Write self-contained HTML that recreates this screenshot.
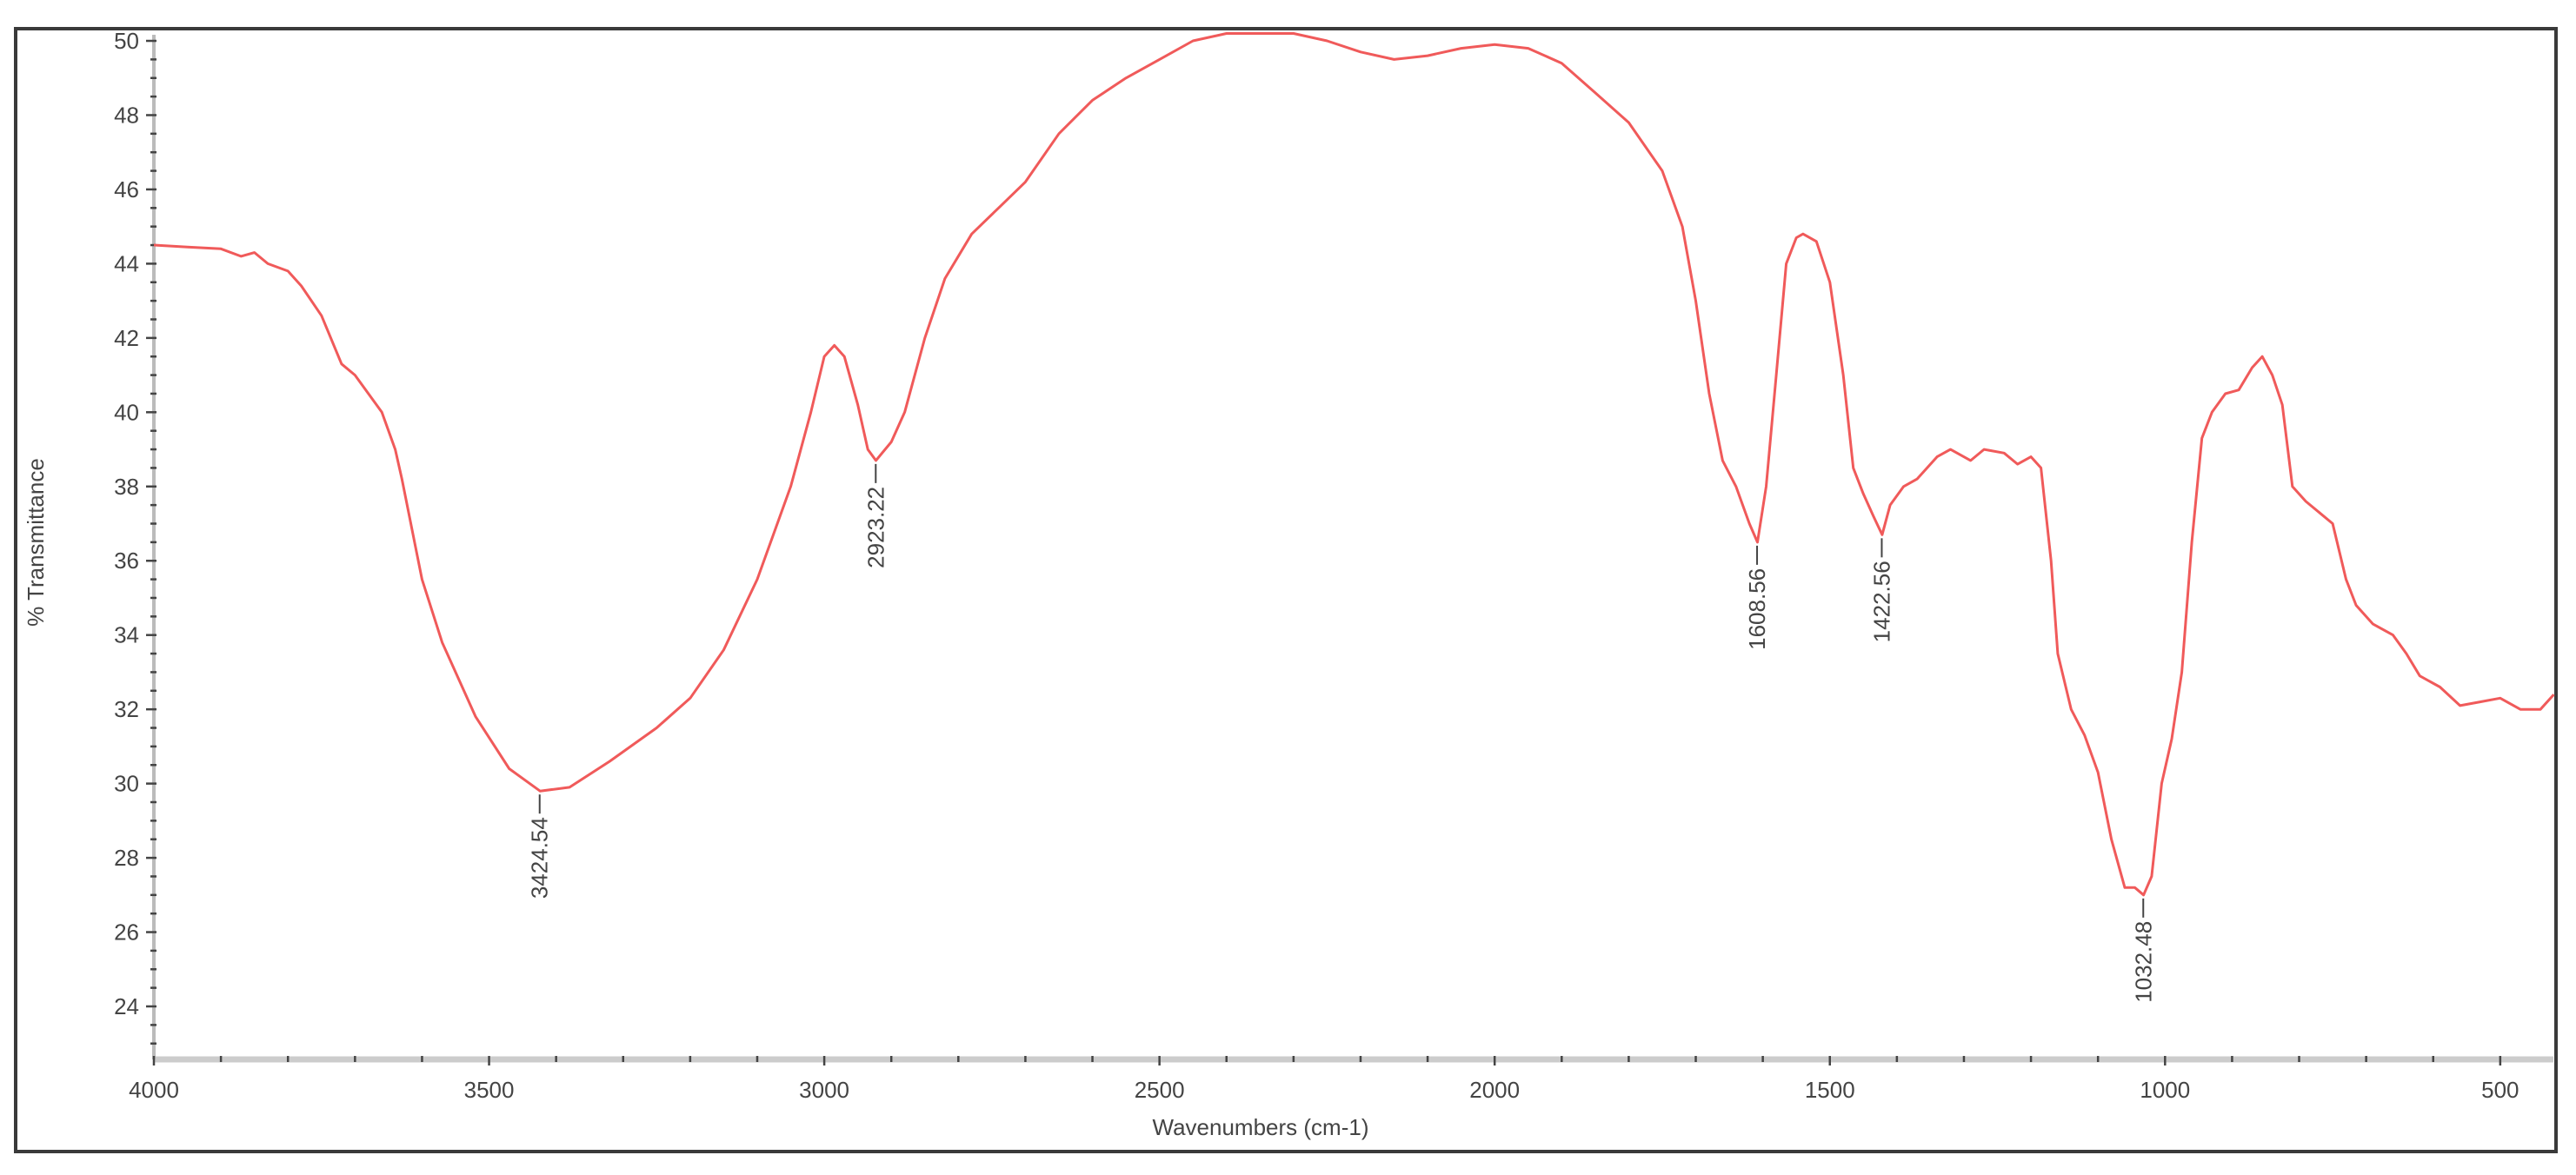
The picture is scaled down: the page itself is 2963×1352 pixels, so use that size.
<!DOCTYPE html>
<html><head><meta charset="utf-8"><style>
body{margin:0;background:#fff;}
svg{display:block;font-family:"Liberation Sans",sans-serif;}
</style></head><body>
<svg id="chart" width="2963" height="1352" viewBox="0 0 2963 1352">
<rect x="18" y="33" width="2922" height="1292" fill="#fff" stroke="#3a3a3a" stroke-width="4"/>
<g id="axes"></g>
<g id="marks"></g>
<text x="1450" y="1306" font-size="26" fill="#444" text-anchor="middle">Wavenumbers (cm-1)</text>
<text transform="translate(50,624) rotate(-90)" font-size="26" fill="#444" text-anchor="middle">% Transmittance</text>
</svg>
<script>
const wavenumbers=[4000,3950,3900,3870,3850,3830,3800,3780,3750,3720,3700,3680,3660,3640,3630,3600,3570,3520,3470,3424,3380,3320,3250,3200,3150,3100,3050,3020,3000,2985,2970,2950,2935,2923,2900,2880,2850,2820,2780,2740,2700,2650,2600,2550,2500,2450,2400,2300,2250,2200,2150,2100,2050,2000,1950,1900,1850,1800,1750,1720,1700,1680,1660,1640,1620,1608,1595,1580,1565,1550,1540,1520,1500,1480,1465,1450,1435,1422,1410,1390,1370,1340,1320,1290,1270,1240,1220,1200,1185,1170,1160,1140,1120,1100,1080,1060,1045,1032,1020,1005,990,975,960,945,930,910,890,870,855,840,825,810,790,770,750,730,715,690,660,640,620,590,560,530,500,470,440,420];
const transmittance=[44.5,44.45,44.4,44.2,44.3,44.0,43.8,43.4,42.6,41.3,41.0,40.5,40.0,39.0,38.2,35.5,33.8,31.8,30.4,29.8,29.9,30.6,31.5,32.3,33.6,35.5,38.0,40.0,41.5,41.8,41.5,40.2,39.0,38.7,39.2,40.0,42.0,43.6,44.8,45.5,46.2,47.5,48.4,49.0,49.5,50.0,50.2,50.2,50.0,49.7,49.5,49.6,49.8,49.9,49.8,49.4,48.6,47.8,46.5,45.0,43.0,40.5,38.7,38.0,37.0,36.5,38.0,41.0,44.0,44.7,44.8,44.6,43.5,41.0,38.5,37.8,37.2,36.7,37.5,38.0,38.2,38.8,39.0,38.7,39.0,38.9,38.6,38.8,38.5,36.0,33.5,32.0,31.3,30.3,28.5,27.2,27.2,27.0,27.5,30.0,31.2,33.0,36.5,39.3,40.0,40.5,40.6,41.2,41.5,41.0,40.2,38.0,37.6,37.3,37.0,35.5,34.8,34.3,34.0,33.5,32.9,32.6,32.1,32.2,32.3,32.0,32.0,32.4];
const peakWavenumbers=[3424.54,2923.22,1608.56,1422.56,1032.48];
const peakValues=[29.8,38.7,36.5,36.7,27.0];
const xTicks=[4000,3500,3000,2500,2000,1500,1000,500];
const yTicks=[24,26,28,30,32,34,36,38,40,42,44,46,48,50];
const NS="http://www.w3.org/2000/svg";
const X=w=>177+(4000-w)*0.7711;
const Y=v=>1158-(v-24)*42.73;
const axes=document.getElementById('axes'),marks=document.getElementById('marks');
function mk(tag,attrs,parent){const e=document.createElementNS(NS,tag);for(const k in attrs)e.setAttribute(k,attrs[k]);parent.appendChild(e);return e;}
let xl=mk('line',{x1:177,y1:1219,x2:2937,y2:1219,stroke:'#ccc','stroke-width':7},axes);


let yl=mk('line',{x1:177,y1:40,x2:177,y2:1219,stroke:'#bbb','stroke-width':4},axes);


for(let w=4000;w>=430;w-=100){const major=w%500===0;mk('line',{x1:X(w),y1:1215,x2:X(w),y2:major?1226:1222,stroke:'#444','stroke-width':2.5},axes);}
for(let v=23;v<=50;v+=0.5){const major=v%2===0;mk('line',{x1:major?168:173,y1:Y(v),x2:180,y2:Y(v),stroke:'#444','stroke-width':2.5},axes);}
xTicks.forEach(t=>{const e=mk('text',{x:X(t),y:1263,'font-size':26,fill:'#444','text-anchor':'middle'},axes);e.textContent=t;

});
yTicks.forEach(t=>{const e=mk('text',{x:160,y:Y(t)+9,'font-size':26,fill:'#444','text-anchor':'end'},axes);e.textContent=t;

});
const d=wavenumbers.map((w,i)=>(i?'L':'M')+X(w).toFixed(1)+','+Y(transmittance[i]).toFixed(1)).join(' ');
const p=mk('path',{d:d,fill:'none',stroke:'#f05a5a','stroke-width':3,'stroke-linejoin':'round'},marks);


peakWavenumbers.forEach((w,i)=>{const x=X(w),y=Y(peakValues[i]);
const l=mk('line',{x1:x,y1:y+4,x2:x,y2:y+26,stroke:'#444','stroke-width':2},marks);


const t=mk('text',{transform:`translate(${x+9},${y+30}) rotate(-90)`,'font-size':26,fill:'#444','text-anchor':'end'},marks);
t.textContent=w.toFixed(2);

});
</script>
</body></html>
